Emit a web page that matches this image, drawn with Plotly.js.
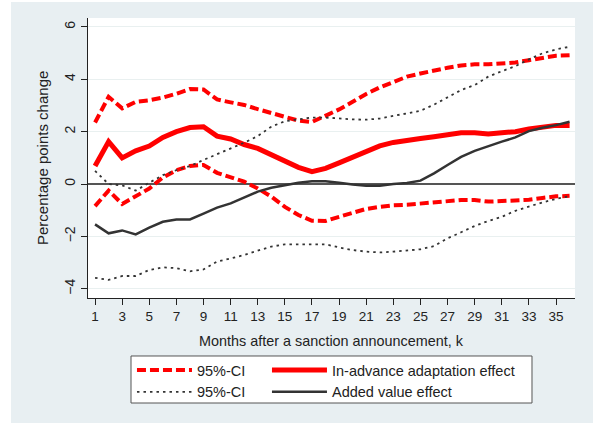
<!DOCTYPE html>
<html>
<head>
<meta charset="utf-8">
<script src="https://cdn.plot.ly/plotly-3.0.1.min.js"></script>
<style>html,body{margin:0;padding:0;background:#fff;}#chart{width:593px;height:423px;}</style>
</head>
<body>
<div id="chart"></div>
<script>
var months = [1,2,3,4,5,6,7,8,9,10,11,12,13,14,15,16,17,18,19,20,21,22,23,24,25,26,27,28,29,30,31,32,33,34,35,36];
var xTickVals = [1,3,5,7,9,11,13,15,17,19,21,23,25,27,29,31,33,35];
var yTickVals = [-4,-2,0,2,4,6];

var inAdvance = [0.69,1.62,1.0,1.27,1.45,1.78,2.0,2.16,2.19,1.83,1.72,1.51,1.36,1.11,0.85,0.64,0.47,0.6,0.81,1.04,1.27,1.46,1.59,1.68,1.74,1.81,1.87,1.96,1.96,1.91,1.96,2.0,2.1,2.19,2.24,2.24];
var inAdvUpper = [2.35,3.33,2.89,3.14,3.2,3.3,3.45,3.63,3.61,3.23,3.12,3.02,2.86,2.7,2.54,2.42,2.37,2.6,2.85,3.14,3.44,3.69,3.91,4.1,4.22,4.34,4.44,4.53,4.57,4.57,4.59,4.64,4.73,4.83,4.9,4.92];
var inAdvLower = [-0.84,-0.25,-0.76,-0.48,-0.17,0.25,0.53,0.69,0.73,0.43,0.28,0.09,-0.17,-0.48,-0.87,-1.18,-1.4,-1.41,-1.25,-1.09,-0.95,-0.87,-0.81,-0.79,-0.74,-0.7,-0.64,-0.61,-0.61,-0.67,-0.65,-0.64,-0.6,-0.53,-0.47,-0.45];

var addedValue = [-1.54,-1.88,-1.77,-1.92,-1.66,-1.44,-1.35,-1.35,-1.13,-0.9,-0.74,-0.52,-0.29,-0.14,-0.04,0.05,0.11,0.11,0.05,-0.02,-0.06,-0.06,0.0,0.04,0.13,0.41,0.73,1.04,1.27,1.45,1.62,1.78,2.02,2.15,2.25,2.38];
var addedUpper = [0.5,0.0,-0.05,-0.25,0.05,0.34,0.53,0.69,0.92,1.13,1.36,1.58,1.83,2.19,2.4,2.48,2.54,2.54,2.5,2.47,2.46,2.5,2.6,2.7,2.8,3.03,3.31,3.59,3.78,4.1,4.31,4.5,4.76,4.99,5.14,5.24];
var addedLower = [-3.58,-3.66,-3.51,-3.51,-3.28,-3.18,-3.21,-3.33,-3.26,-2.96,-2.84,-2.71,-2.54,-2.39,-2.3,-2.3,-2.28,-2.3,-2.42,-2.52,-2.58,-2.61,-2.58,-2.54,-2.49,-2.37,-2.07,-1.84,-1.6,-1.41,-1.25,-1.02,-0.86,-0.7,-0.57,-0.46];

var legendNames = ['95%-CI', 'In-advance adaptation effect', '95%-CI', 'Added value effect'];

var RED = '#ff0000';
var DARK = '#333333';
var redDash = {color: RED, width: 4, dash: '9px,4px'};
var blackDot = {color: DARK, width: 1.8, dash: '2.5px,4px'};

var traces = [
  {x: months, y: inAdvUpper, mode: 'lines', name: legendNames[0], line: redDash, legend: 'legend'},
  {x: months, y: inAdvLower, mode: 'lines', name: legendNames[0], line: redDash, showlegend: false},
  {x: months, y: inAdvance, mode: 'lines', name: legendNames[1], line: {color: RED, width: 5}, legend: 'legend2'},
  {x: months, y: addedUpper, mode: 'lines', name: legendNames[2], line: blackDot, legend: 'legend'},
  {x: months, y: addedLower, mode: 'lines', name: legendNames[2], line: blackDot, showlegend: false},
  {x: months, y: addedValue, mode: 'lines', name: legendNames[3], line: {color: DARK, width: 2.5}, legend: 'legend2'}
];

var FONT = 'Liberation Sans, Arial, sans-serif';
var legendBase = {
  orientation: 'v',
  y: -0.2, yanchor: 'top', xanchor: 'left',
  bgcolor: 'rgba(0,0,0,0)', borderwidth: 0,
  itemwidth: 55,
  traceorder: 'normal',
  font: {family: FONT, size: 14.5, color: '#222'},
  itemclick: false, tracegroupgap: 0
};
var legend1 = Object.assign({}, legendBase, {x: 0.0903});
var legend2 = Object.assign({}, legendBase, {x: 0.3675});

var layout = {
  width: 593, height: 423,
  margin: {l: 88, r: 18, t: 18, b: 125, pad: 0},
  paper_bgcolor: '#e8eff2',
  plot_bgcolor: '#ffffff',
  font: {family: FONT, size: 13.5, color: '#222'},
  showlegend: true,
  xaxis: {
    range: [0.48, 36.4],
    tickmode: 'array', tickvals: xTickVals,
    ticks: 'outside', ticklen: 6, tickcolor: '#222', tickwidth: 1,
    showline: true, linecolor: '#222', linewidth: 1.2,
    showgrid: false, zeroline: false,
    tickfont: {family: FONT, size: 13.5, color: '#222'}
  },
  yaxis: {
    range: [-4.35, 6.34],
    tickmode: 'array', tickvals: yTickVals,
    ticks: 'outside', ticklen: 6, tickcolor: '#222', tickwidth: 1,
    tickangle: -90,
    showline: true, linecolor: '#222', linewidth: 1.2,
    showgrid: true, gridcolor: '#e9f0f0', gridwidth: 1,
    zeroline: true, zerolinecolor: '#555', zerolinewidth: 1.2,
    tickfont: {family: FONT, size: 14, color: '#222'}
  },
  legend: legend1,
  legend2: legend2,
  annotations: [
    {text: 'Months after a sanction announcement, k', xref: 'paper', yref: 'paper', x: 0.5, y: -0.154,
     xanchor: 'center', yanchor: 'middle', showarrow: false, font: {family: FONT, size: 14.4, color: '#222'}},
    {text: 'Percentage points change', xref: 'paper', yref: 'paper', x: -0.0945, y: 0.5, textangle: -90,
     xanchor: 'center', yanchor: 'middle', showarrow: false, font: {family: FONT, size: 15, color: '#222'}}
  ],
  shapes: [
    {type: 'rect', xref: 'paper', yref: 'paper', x0: -0.2, x1: -0.1581, y0: -0.5, y1: 1.1, fillcolor: '#ffffff', line: {width: 0}, layer: 'below'},
    {type: 'rect', xref: 'paper', yref: 'paper', x0: -0.2, x1: 1.1, y0: 1.0572, y1: 1.1, fillcolor: '#ffffff', line: {width: 0}, layer: 'below'},
    {type: 'rect', xref: 'paper', yref: 'paper', x0: 0.0883, x1: 0.9117, y0: -0.375, y1: -0.2071, fillcolor: '#ffffff', line: {color: '#555', width: 1}, layer: 'above'}
  ]
};

Plotly.newPlot('chart', traces, layout, {displayModeBar: false, staticPlot: true});
</script>
</body>
</html>
